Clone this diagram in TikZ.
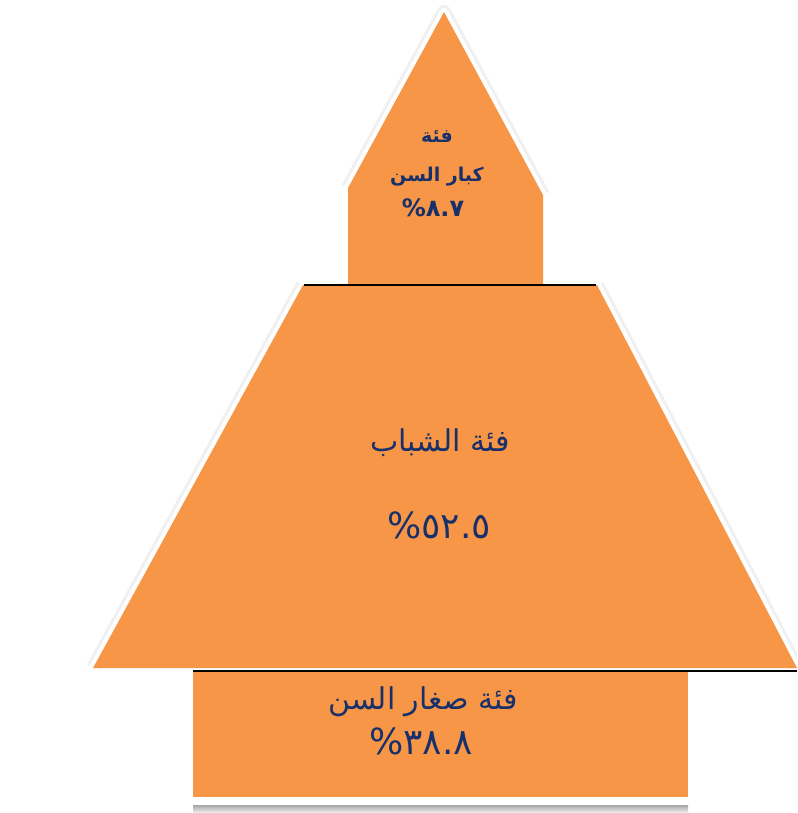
\documentclass[tikz,border=0pt]{standalone}
\usepackage{fontspec}
\usetikzlibrary{positioning}
\newfontfamily\arabicfont[Script=Arabic]{DejaVu Sans}
\TeXXeTstate=1
\definecolor{pyrorange}{HTML}{F79646}
\definecolor{pyrnavy}{HTML}{17306B}

\begin{document}
\begin{tikzpicture}[
      x=1pt, y=-1pt,
      block/.style={fill=pyrorange, draw=none},
      edge/.style={line width=1.3pt, black},
      glow/.style={black!6, line width=14pt, line join=round},
      halo/.style={white, line width=8pt, line join=round},
      bigtxt/.style={font=\arabicfont\fontsize{30}{34}\selectfont,
                     text=pyrnavy, inner sep=0pt},
      numtxt/.style={font=\arabicfont\fontsize{36}{40}\selectfont,
                     text=pyrnavy, inner sep=0pt},
      smalltxt/.style={font=\arabicfont\bfseries\fontsize{19}{22}\selectfont,
                       text=pyrnavy, inner sep=0pt},
    ]
    \useasboundingbox (0,0) rectangle (797,813);

    % soft edges
    \begin{scope}
      \clip (0,0) rectangle (797,668);
      \draw[glow] (348,188) -- (444,12) -- (543,195);
      \draw[glow] (93,668) -- (303,285) (597,285) -- (797,668);
      \draw[halo] (348,188) -- (444,12) -- (543,195);
      \draw[halo] (93,668) -- (303,285) (597,285) -- (797,668);
    \end{scope}

    % shapes
    \fill[block] (444,12) -- (543,195) -- (543,284) -- (348,284) -- (348,188) -- cycle;
    \fill[block] (303,285) -- (597,285) -- (797,668) -- (93,668) -- cycle;
    \fill[block] (193,671) rectangle (688,797);
    \shade[top color=black!35, bottom color=black!5] (193,805) rectangle (688,813);

    \draw[edge] (304,285) -- (596,285);
    \draw[edge] (193,671) -- (797,671);

    % old age
    \node[smalltxt] (oldcat)  at (437,137) {\beginR فئة\endR};
    \node[smalltxt] (oldname) at (437,177) {\beginR كبار السن\endR};
    \node[smalltxt, font=\arabicfont\bfseries\fontsize{24}{28}\selectfont]
      (oldpct) at (433,208) {\beginR ٨.٧\%\endR};

    % youth
    \node[bigtxt] (youthname) at (440,443) {\beginR فئة الشباب\endR};
    \node[numtxt] (youthpct)  at (439,525) {\beginR ٥٢.٥\%\endR};

    % children
    \node[bigtxt] (kidname) at (423,702) {\beginR فئة صغار السن\endR};
    \node[numtxt] (kidpct)  at (421,741) {\beginR ٣٨.٨\%\endR};
  \end{tikzpicture}
\end{document}
